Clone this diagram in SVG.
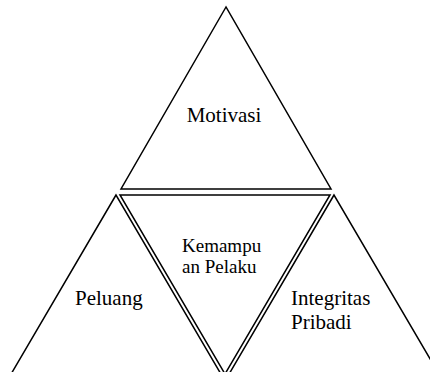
<svg xmlns="http://www.w3.org/2000/svg" width="430" height="372" viewBox="0 0 430 372">
<rect width="430" height="372" fill="#fff"/>
<g id="motivasi">
<polygon fill="none" stroke="#000" stroke-width="1.5" points="226,7 121,189 331,189"/>
<text font-family="Liberation Serif, serif" font-size="21" x="224" y="122" text-anchor="middle">Motivasi</text>
</g>
<g id="kemampuan">
<polygon fill="none" stroke="#000" stroke-width="1.5" points="120,195 330,195 225,374"/>
<text font-family="Liberation Serif, serif" font-size="19" x="182" y="252">Kemampu</text>
<text font-family="Liberation Serif, serif" font-size="19" x="182" y="273">an Pelaku</text>
</g>
<g id="peluang">
<polygon fill="none" stroke="#000" stroke-width="1.5" points="116,195 7,381 225,381"/>
<text font-family="Liberation Serif, serif" font-size="21" x="75" y="305">Peluang</text>
</g>
<g id="integritas">
<polygon fill="none" stroke="#000" stroke-width="1.5" points="334,195 225,381 443,381"/>
<text font-family="Liberation Serif, serif" font-size="21" x="291" y="305">Integritas</text>
<text font-family="Liberation Serif, serif" font-size="21" x="291" y="329">Pribadi</text>
</g>
<g id="connectors"></g>
</svg>
